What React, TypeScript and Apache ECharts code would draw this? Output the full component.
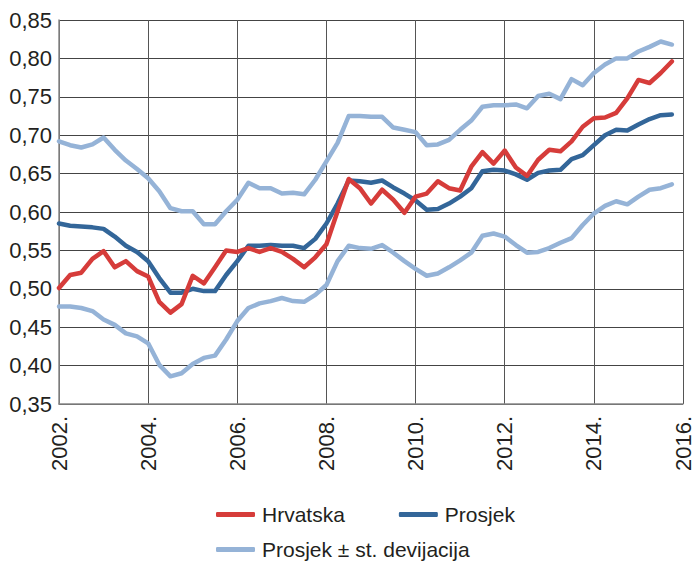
import React, { useEffect, useRef } from "react";
import * as echarts from "echarts";

// Quarterly observations, 2002 Q1 … 2015 Q4
const startYear = 2002;
const quarterCount = 56;

const hrvatska = [
  0.501, 0.518, 0.521, 0.539, 0.549, 0.528, 0.536, 0.523, 0.516, 0.483,
  0.469, 0.480, 0.517, 0.507, 0.528, 0.550, 0.548, 0.553, 0.548, 0.553,
  0.548, 0.539, 0.528, 0.541, 0.558, 0.601, 0.643, 0.631, 0.611, 0.629,
  0.616, 0.599, 0.620, 0.624, 0.640, 0.631, 0.628, 0.659, 0.678, 0.663,
  0.680, 0.658, 0.647, 0.668, 0.681, 0.679, 0.692, 0.711, 0.722, 0.723,
  0.729, 0.748, 0.772, 0.768, 0.781, 0.796,
];

const prosjek = [
  0.585, 0.582, 0.581, 0.580, 0.578, 0.568, 0.556, 0.548, 0.536, 0.514,
  0.495, 0.495, 0.500, 0.497, 0.497, 0.518, 0.536, 0.556, 0.556, 0.557,
  0.556, 0.556, 0.553, 0.565, 0.585, 0.611, 0.641, 0.640, 0.638, 0.641,
  0.632, 0.624, 0.615, 0.603, 0.604, 0.611, 0.620, 0.631, 0.653, 0.655,
  0.654, 0.649, 0.642, 0.651, 0.654, 0.655, 0.669, 0.674, 0.687, 0.700,
  0.707, 0.706, 0.714, 0.721, 0.726, 0.727,
];

const prosjekPlusSd = [
  0.692, 0.687, 0.684, 0.688, 0.697, 0.681, 0.667, 0.656, 0.644, 0.627,
  0.605, 0.601, 0.601, 0.584, 0.584, 0.601, 0.616, 0.638, 0.631, 0.631,
  0.624, 0.625, 0.623, 0.642, 0.666, 0.690, 0.725, 0.725, 0.724, 0.724,
  0.710, 0.707, 0.704, 0.687, 0.688, 0.694, 0.707, 0.719, 0.737, 0.739,
  0.739, 0.740, 0.735, 0.751, 0.754, 0.747, 0.773, 0.765, 0.781, 0.792,
  0.800, 0.800, 0.809, 0.815, 0.822, 0.818,
];

const prosjekMinusSd = [
  0.477, 0.477, 0.475, 0.471, 0.460, 0.453, 0.442, 0.438, 0.429, 0.401,
  0.386, 0.390, 0.402, 0.410, 0.413, 0.434, 0.458, 0.475, 0.481, 0.484,
  0.488, 0.484, 0.483, 0.492, 0.505, 0.536, 0.556, 0.553, 0.552, 0.557,
  0.547, 0.536, 0.526, 0.517, 0.520, 0.528, 0.537, 0.547, 0.569, 0.572,
  0.568, 0.557, 0.547, 0.548, 0.553, 0.560, 0.566, 0.583, 0.598, 0.608,
  0.614, 0.610, 0.620, 0.629, 0.631, 0.636,
];

const seriesNames = ["Hrvatska", "Prosjek", "Prosjek ± st. devijacija"];
const colors = ["#d63c3a", "#336699", "#95b3d7"];

const FONT = "'Liberation Sans', Arial, sans-serif";
const TEXT = "#231f20";

function toPoints(values: number[]) {
  return values.slice(0, quarterCount).map((v, i) => [startYear + i * 0.25, v]);
}

export default function App() {
  const ref = useRef<HTMLDivElement>(null);

  useEffect(() => {
    document.body.style.margin = "0";
    if (!ref.current) return;
    const chart = echarts.init(ref.current, null, { renderer: "svg" });
    const lineStyle = (c: string) => ({ color: c, width: 4.5, cap: "round" as const, join: "round" as const });
    const legendText = { fontSize: 21, color: TEXT, fontFamily: FONT, padding: [0, 0, 0, 2] };
    chart.setOption({
      animation: false,
      textStyle: { fontFamily: FONT },
      grid: { left: 59, right: 6, top: 20, bottom: 161, containLabel: false },
      xAxis: {
        type: "value",
        min: 2002,
        max: 2016,
        interval: 2,
        axisLine: { show: true, lineStyle: { color: "#888", width: 1.5 } },
        axisTick: { show: false },
        splitLine: { show: true, lineStyle: { color: "#555", width: 1 } },
        axisLabel: {
          rotate: 90,
          margin: 12,
          fontSize: 22,
          color: TEXT,
          fontFamily: FONT,
          formatter: (v: number) => `${v}.`,
        },
      },
      yAxis: {
        type: "value",
        min: 0.35,
        max: 0.85,
        interval: 0.05,
        axisLine: { show: true, lineStyle: { color: "#888", width: 1.5 } },
        axisTick: { show: false },
        splitLine: { show: true, lineStyle: { color: "#444", width: 1 } },
        axisLabel: {
          margin: 7,
          fontSize: 22,
          color: TEXT,
          fontFamily: FONT,
          formatter: (v: number) => v.toFixed(2).replace(".", ","),
        },
      },
      legend: [
        {
          data: [seriesNames[0], seriesNames[1]],
          left: 211,
          top: 499,
          padding: 5,
          icon: "roundRect",
          itemWidth: 39,
          itemHeight: 5,
          itemGap: 54,
          textStyle: legendText,
        },
        {
          data: [seriesNames[2]],
          left: 211,
          top: 534,
          padding: 5,
          icon: "roundRect",
          itemWidth: 39,
          itemHeight: 5,
          textStyle: legendText,
        },
      ],
      series: [
        {
          name: seriesNames[2],
          type: "line",
          data: toPoints(prosjekPlusSd),
          showSymbol: false,
          symbol: "none",
          lineStyle: lineStyle(colors[2]),
          itemStyle: { color: colors[2] },
          z: 2,
        },
        {
          name: seriesNames[2],
          type: "line",
          data: toPoints(prosjekMinusSd),
          showSymbol: false,
          symbol: "none",
          lineStyle: lineStyle(colors[2]),
          itemStyle: { color: colors[2] },
          z: 2,
        },
        {
          name: seriesNames[1],
          type: "line",
          data: toPoints(prosjek),
          showSymbol: false,
          symbol: "none",
          lineStyle: lineStyle(colors[1]),
          itemStyle: { color: colors[1] },
          z: 3,
        },
        {
          name: seriesNames[0],
          type: "line",
          data: toPoints(hrvatska),
          showSymbol: false,
          symbol: "none",
          lineStyle: lineStyle(colors[0]),
          itemStyle: { color: colors[0] },
          z: 4,
        },
      ],
    });
    return () => chart.dispose();
  }, []);

  return <div ref={ref} style={{ width: 694, height: 565 }} />;
}
